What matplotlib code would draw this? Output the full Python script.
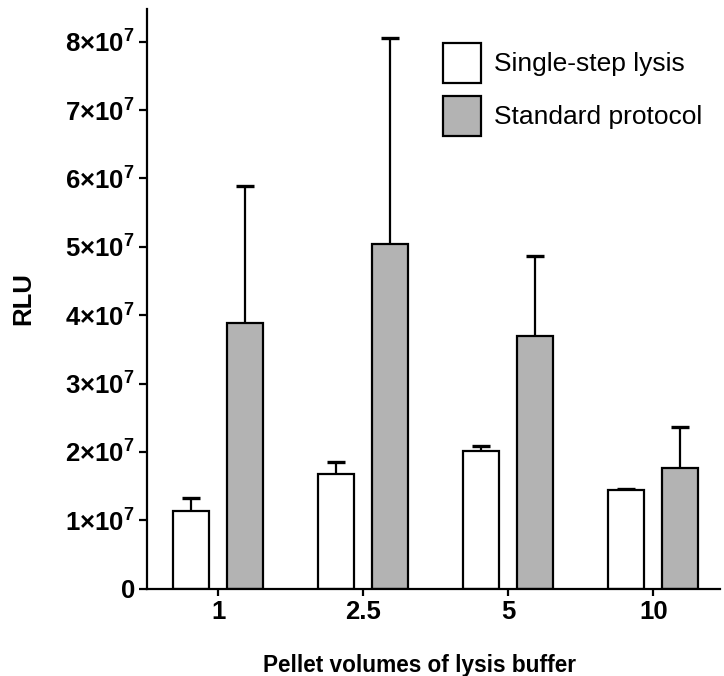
import numpy as np
import matplotlib
matplotlib.use("Agg")
import matplotlib.pyplot as plt

plt.rcParams['font.family'] = ['Liberation Sans', 'DejaVu Sans']
plt.rcParams['mathtext.fontset'] = 'custom'
plt.rcParams['mathtext.rm'] = 'Liberation Sans:bold'
plt.rcParams['mathtext.bf'] = 'Liberation Sans:bold'
plt.rcParams['mathtext.it'] = 'Liberation Sans:bold'

# data (RLU)
volumes = ['1', '2.5', '5', '10']
single_step = [1.14e7, 1.67e7, 2.01e7, 1.44e7]
single_step_err = [0.18e7, 0.18e7, 0.07e7, 0.02e7]
standard = [3.88e7, 5.04e7, 3.69e7, 1.77e7]
standard_err = [2.01e7, 3.02e7, 1.17e7, 0.59e7]
series_labels = ['Single-step lysis', 'Standard protocol']
ytick_vals = [0, 1e7, 2e7, 3e7, 4e7, 5e7, 6e7, 7e7, 8e7]

fig = plt.figure(figsize=(7.24, 6.76), dpi=100)
ax = fig.add_axes([0.2026, 0.1294, 0.7919, 0.8573])

x = np.arange(len(volumes))
w = 0.248
off = 0.186
ekw = dict(elinewidth=1.6, capthick=2.4, ecolor='black', zorder=1)

groups = [(x - off, single_step, single_step_err, 'white', series_labels[0]),
          (x + off, standard, standard_err, '#b3b3b3', series_labels[1])]
for pos, vals, err, col, lab in groups:
    bc = ax.bar(pos, vals, w, color=col, edgecolor='black', linewidth=1.6,
                yerr=[np.zeros(len(pos)), err], capsize=6.7, error_kw=ekw,
                label=lab, zorder=2)
    # one-sided error bars: hide the cap sitting on the bar top
    for cap in bc.errorbar.lines[1]:
        if np.allclose(cap.get_ydata(), vals):
            cap.set_visible(False)

ax.set_xlim(-0.494, 3.46)
ax.set_ylim(0, 8.48e7)

ax.spines['top'].set_visible(False)
ax.spines['right'].set_visible(False)
ax.spines['left'].set_linewidth(1.6)
ax.spines['bottom'].set_linewidth(1.6)

ax.set_xticks(x)
ax.set_xticklabels(volumes, fontsize=18.5, fontweight='bold')
ax.set_yticks(ytick_vals)
ylabels = ['0'] + [r'%d$\times$10$^{7}$' % int(v / 1e7) for v in ytick_vals[1:]]
ax.set_yticklabels(ylabels, fontsize=18.5, fontweight='bold')
ax.tick_params(axis='both', direction='out', width=1.6)
ax.tick_params(axis='y', length=6, pad=2.5)
ax.tick_params(axis='x', length=5, pad=3.5)

ax.set_ylabel('RLU', fontsize=18.5, fontweight='bold', labelpad=22)
ax.set_xlabel('Pellet volumes of lysis buffer', fontsize=16.3, fontweight='bold')
ax.xaxis.set_label_coords(0.476, -0.113)

ax.legend(loc='upper left', bbox_to_anchor=(0.516, 0.942), frameon=False,
          fontsize=19, handlelength=1.44, handleheight=1.95, handletextpad=0.5,
          labelspacing=0.5, borderpad=0, borderaxespad=0)

fig.savefig('out.png', dpi=100)
